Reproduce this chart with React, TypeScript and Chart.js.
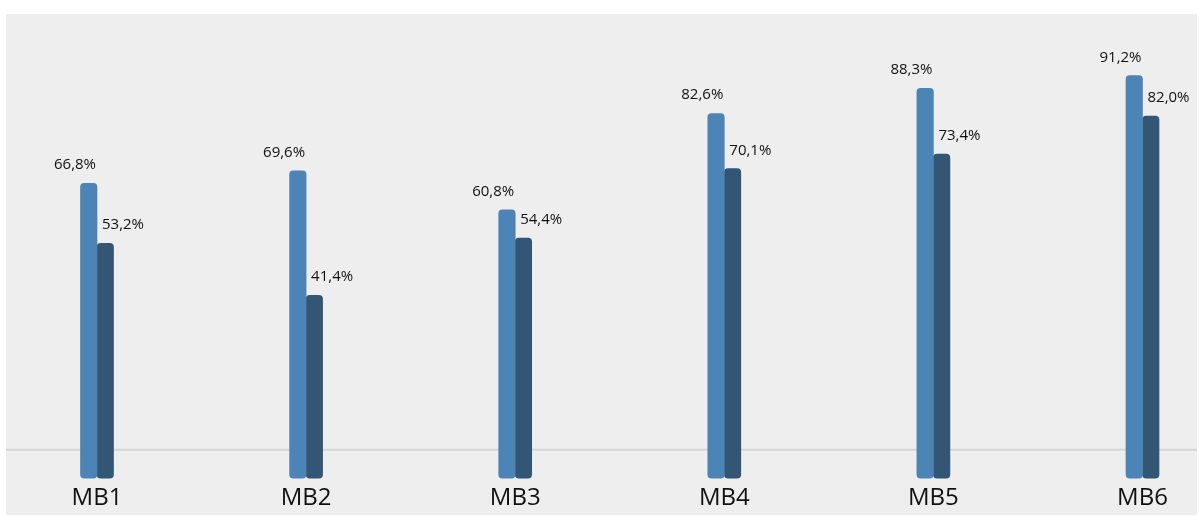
import React, { useEffect, useRef } from "react";
import { Chart, registerables } from "chart.js";

Chart.register(...registerables);

const categories = ["MB1", "MB2", "MB3", "MB4", "MB5", "MB6"];
const seriesLight = [66.8, 69.6, 60.8, 82.6, 88.3, 91.2];
const seriesDark = [53.2, 41.4, 54.4, 70.1, 73.4, 82.0];

const LIGHT = "rgb(76,132,181)";
const DARK = "rgb(50,86,116)";
const FONT = "'Open Sans', 'Noto Sans', sans-serif";

const fmt = (v: number) => v.toFixed(1).replace(".", ",") + "%";

const backgroundPlugin = {
  id: "bgPanel",
  beforeDraw(chart: any) {
    const ctx = chart.ctx;
    ctx.save();
    ctx.fillStyle = "#ffffff";
    ctx.fillRect(0, 0, chart.width, chart.height);
    ctx.fillStyle = "#eeeeee";
    ctx.fillRect(6, 14, 1191, 501);
    ctx.restore();
  },
  beforeDatasetsDraw(chart: any) {
    const ctx = chart.ctx;
    const y = chart.chartArea.bottom - 28.5;
    ctx.save();
    ctx.strokeStyle = "#d6d6d6";
    ctx.lineWidth = 2;
    ctx.beginPath();
    ctx.moveTo(6, y);
    ctx.lineTo(1197, y);
    ctx.stroke();
    ctx.restore();
  },
};

const labelPlugin = {
  id: "valueLabels",
  afterDatasetsDraw(chart: any) {
    const ctx = chart.ctx;
    ctx.save();
    ctx.font = `15px ${FONT}`;
    ctx.fillStyle = "#111111";
    ctx.textBaseline = "alphabetic";
    chart.data.datasets.forEach((ds: any, di: number) => {
      const meta = chart.getDatasetMeta(di);
      meta.data.forEach((bar: any, i: number) => {
        const v = ds.data[i] as number;
        const half = bar.width / 2;
        if (di === 0) {
          ctx.textAlign = "right";
          ctx.fillText(fmt(v), bar.x + half - 1, bar.y - 14);
        } else {
          ctx.textAlign = "left";
          ctx.fillText(fmt(v), bar.x - half + 5, bar.y - 14);
        }
      });
    });
    ctx.restore();
  },
};

export default function App() {
  const ref = useRef<HTMLCanvasElement | null>(null);

  useEffect(() => {
    if (!ref.current) return;
    const chart = new Chart(ref.current, {
      type: "bar",
      data: {
        labels: categories,
        datasets: [
          {
            label: "A",
            data: seriesLight,
            backgroundColor: LIGHT,
            borderRadius: 4,
            borderSkipped: false,
            barThickness: 16.5,
            clip: false as any,
          },
          {
            label: "B",
            data: seriesDark,
            backgroundColor: DARK,
            borderRadius: 4,
            borderSkipped: false,
            barThickness: 16.5,
            clip: false as any,
          },
        ],
      },
      options: {
        animation: false,
        responsive: false,
        maintainAspectRatio: false,
        layout: { padding: { left: 97, right: 56.5, top: 19, bottom: -3 } },
        plugins: {
          legend: { display: false },
          tooltip: { enabled: false },
        },
        scales: {
          x: {
            offset: false,
            grid: { display: false, drawTicks: false },
            border: { display: false },
            ticks: {
              padding: 6,
              color: "#111111",
              font: { family: FONT, size: 24 },
              maxRotation: 0,
              autoSkip: false,
            },
          },
          y: {
            display: false,
            min: 0,
            max: 104,
          },
        },
      },
      plugins: [backgroundPlugin, labelPlugin],
    });
    return () => chart.destroy();
  }, []);

  return (
    <div style={{ position: "fixed", left: 0, top: 0, width: 1199, height: 516 }}>
      <canvas ref={ref} width={1199} height={516} style={{ display: "block" }} />
    </div>
  );
}
